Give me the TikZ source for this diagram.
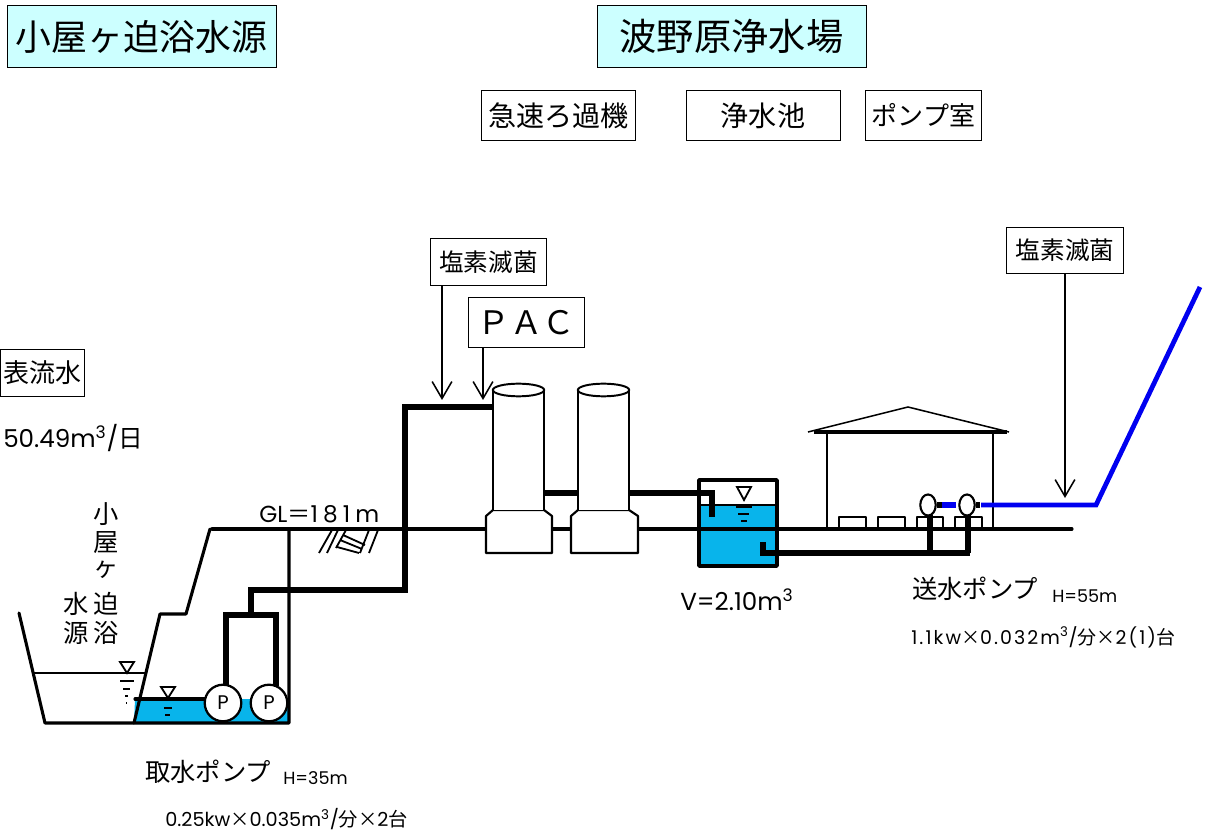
\documentclass[tikz,border=0pt]{standalone}
\usepackage{fontspec}
\setmainfont{Poppins}
\newfontfamily\cjk{Noto Sans CJK JP}
\usetikzlibrary{arrows.meta,shapes.geometric}
\definecolor{waterblue}{RGB}{8,180,235}
\definecolor{titlecyan}{RGB}{204,255,255}
\definecolor{linkblue}{RGB}{0,0,240}
\newcommand{\fs}[1]{\fontsize{#1}{#1}\selectfont}
\newcommand{\spaced}[1]{\addfontfeature{LetterSpace=#1}}
\tikzset{
  px/.style={x=0.025cm,y=-0.025cm},
  labelbox/.style={draw,line width=0.7pt,inner sep=0pt,font=\cjk\fs{20}},
  titlebox/.style={labelbox,fill=titlecyan,minimum width=191.3pt,minimum height=43.4pt,font=\cjk\fs{25.5}},
  plain/.style={inner sep=0pt,font=\cjk\fs{18}},
  wall/.style={line width=2.2pt,line cap=round,line join=round},
  vessel/.style={line width=1.5pt,line join=round,fill=white},
  pipe/.style={line width=3.8pt,line join=miter},
  dose/.style={line width=1.1pt,-{Straight Barb[length=12pt,width=14pt]}},
  pump/.style={circle,draw,line width=1.6pt,fill=white,minimum size=26pt,inner sep=0pt,font=\fs{14}},
  levelmark/.style={line width=1.3pt},
}
\begin{document}
\begin{tikzpicture}[px]
  \useasboundingbox (0,0) rectangle (1208,832);

  % labels
  \node[titlebox] (source) at (141.5,36.5) {小屋ヶ迫浴水源};
  \node[titlebox,font=\cjk\fs{26.5}] (plant) at (731.5,36.5) {波野原浄水場};
  \node[labelbox,minimum width=110pt,minimum height=35pt] (filter) at (558.5,115.5) {急速ろ過機};
  \node[labelbox,minimum width=109.5pt,minimum height=35pt] (clear) at (763,115.5) {浄水池};
  \node[labelbox,minimum width=82pt,minimum height=35pt,font=\cjk\fs{18.5}] (pumproom) at (923.5,115.5) {ポンプ室};
  \node[labelbox,minimum width=83pt,minimum height=33pt,font=\cjk\fs{17.5}] (chlora) at (488.5,262) {塩素滅菌};
  \node[labelbox,minimum width=82pt,minimum height=35pt,font=\cjk\fs{23}] (pac) at (526.5,322.5) {ＰＡＣ};
  \node[labelbox,minimum width=83pt,minimum height=33pt,font=\cjk\fs{17.5}] (chlorb) at (1065,250.5) {塩素滅菌};
  \node[labelbox,minimum width=60pt,minimum height=34pt,font=\cjk\fs{18.5}] (surface) at (42.5,373) {表流水};

  \node[plain,anchor=west,font=\fs{17.5}] (flow) at (3,438) {50.49m\textsuperscript{3}/{\cjk 日}};
  \node[plain] (v1) at (106,514) {小};
  \node[plain] (v2) at (106,543) {屋};
  \node[plain] (v3) at (106,570) {ヶ};
  \node[plain] (v4) at (106,604) {迫};
  \node[plain] (v5) at (76,604) {水};
  \node[plain] (v6) at (106,633) {浴};
  \node[plain] (v7) at (76,633) {源};
  \node[plain,anchor=west,font=\fs{16.5}] (gl) at (259,514) {GL{\cjk ＝}{\spaced{22}181m}};
  \node[plain,anchor=west,font=\fs{17.5}] (volume) at (680,600) {V=2.10m\textsuperscript{3}};
  \node[plain,anchor=west] (sendpump) at (912,589) {送水ポンプ};
  \node[plain,anchor=west,font=\fs{12.5}] (sendhead) at (1052,596) {H=55m};
  \node[plain,anchor=west,font=\fs{13.5}] (sendspec) at (911,637) {{\spaced{11}1.1kw}{\cjk ×}{\spaced{11}0.032m\textsuperscript{3}/}{\cjk 分×}{\spaced{11}2(1)}{\cjk 台}};
  \node[plain,anchor=west] (takepump) at (145,772) {取水ポンプ};
  \node[plain,anchor=west,font=\fs{12.5}] (takehead) at (283,778) {H=35m};
  \node[plain,anchor=west,font=\fs{13.7}] (takespec) at (165,819) {0.25kw{\cjk ×}0.035m\textsuperscript{3}/{\cjk 分×}2{\cjk 台}};

  % water
  \fill[waterblue] (135,699) -- (289,699) -- (289,724) -- (134,724) -- cycle;
  \fill[waterblue] (699,505) rectangle (777,566);

  % ground and intake
  \draw[wall] (19,613) -- (45,723) -- (289,723) -- (289,529);
  \draw[wall,line width=1.4pt] (34,673) -- (145,673);
  \draw[wall] (134,723) -- (160,614) -- (186,614) -- (210,529);
  \draw[wall] (212,529) -- (1072,529);
  \draw[wall] (135,699) -- (205,699);
  \draw[levelmark] (332,530) -- (319,553) (338,530) -- (327,553) (346,530) -- (336,548)
    (369,530) -- (360,553) (378,530) -- (369,553)
    (343,535) -- (365,545) (340,540) -- (362,549) (337,547) -- (359,553);

  % level marks
  \draw[levelmark,fill=white] (120,662) -- (134,662) -- (127,673) -- cycle;
  \draw[levelmark] (120,681) -- (134,681) (123,689) -- (130,689) (125,696) -- (128,696) (126,703) -- (127,703);
  \draw[levelmark,fill=white] (161,687) -- (175,687) -- (168,698) -- cycle;
  \draw[levelmark] (164,708) -- (172,708) (165,715) -- (170,715);
  \draw[levelmark,fill=white] (737,487) -- (751,487) -- (744,500) -- cycle;

  % pumps and pipes
  \draw[pipe] (226,686) -- (226,615) -- (276,615) -- (276,686);
  \draw[pipe] (251,615) -- (251,590) -- (405,590) -- (405,407) -- (493,407);
  \node[pump] (pumpa) at (223,703) {P};
  \node[pump] (pumpb) at (269,703) {P};

  % filters
  \foreach \name/\xa/\xb/\xc/\xd in {filtera/486/493/544/552,filterb/571/578/629/638}{
    \draw[vessel] (\xa,553) -- (\xa,516) -- (\xb,510) -- (\xc,510) -- (\xd,516) -- (\xd,553) -- cycle;
    \draw[vessel] (\xb,510) -- (\xb,390) -- (\xc,390) -- (\xc,510);
    \node[ellipse,draw,line width=1.4pt,fill=white,minimum width=36.5pt,minimum height=9pt,inner sep=0pt] (\name) at ({(\xb+\xc)/2},390) {};
  }
  \draw[pipe] (544,493) -- (578,493);
  \draw[pipe] (629,493) -- (712,493) -- (712,517);

  % clear water tank
  \draw[wall,line cap=butt,line width=2.6pt] (699,480) rectangle (777,566);
  \draw[wall,line cap=butt,line width=1.8pt] (699,505) -- (777,505);
  \draw[levelmark] (736,507) -- (752,507) (738,514) -- (749,514) (741,521) -- (747,521) (743.5,528) -- (745.5,528);
  \draw[pipe] (763,542) -- (763,553) -- (970,553);

  % pump room
  \draw[line width=1.1pt] (808,432) -- (908,407) -- (1009,432);
  \draw[wall,line width=2.6pt,line cap=butt] (814,432) -- (1007,432);
  \draw[wall,line width=1.8pt,line cap=butt] (827,432) -- (827,529) (993,432) -- (993,529);
  \foreach \xa/\xb in {839/866,878/905,917/943,955/982}
    \draw[wall,line width=1.6pt,line cap=butt] (\xa,529) -- (\xa,517) -- (\xb,517) -- (\xb,529);
  \draw[pipe] (930,553) -- (930,515);
  \draw[pipe] (968,553) -- (968,512);
  \node[ellipse,draw,line width=1.5pt,fill=white,minimum width=11pt,minimum height=15pt,inner sep=0pt] (senda) at (928,505) {};
  \node[ellipse,draw,line width=1.5pt,fill=white,minimum width=11pt,minimum height=15pt,inner sep=0pt] (sendb) at (967,505) {};
  \draw[pipe] (senda.east) -- (942,505);
  \draw[pipe] (sendb.east) -- (980,505);
  \draw[pipe,linkblue] (942,505) -- (956,505);
  \draw[pipe,linkblue,line width=3.4pt] (981,505) -- (1096,505) -- (1200,287);

  % dosing arrows
  \coordinate (dosea) at (442,400);
  \coordinate (doseb) at (483,400);
  \coordinate (dosec) at (1065,498);
  \draw[dose] (chlora.south -| dosea) -- (dosea);
  \draw[dose] (pac.south -| doseb) -- (doseb);
  \draw[dose] (chlorb.south) -- (dosec);
\end{tikzpicture}
\end{document}
